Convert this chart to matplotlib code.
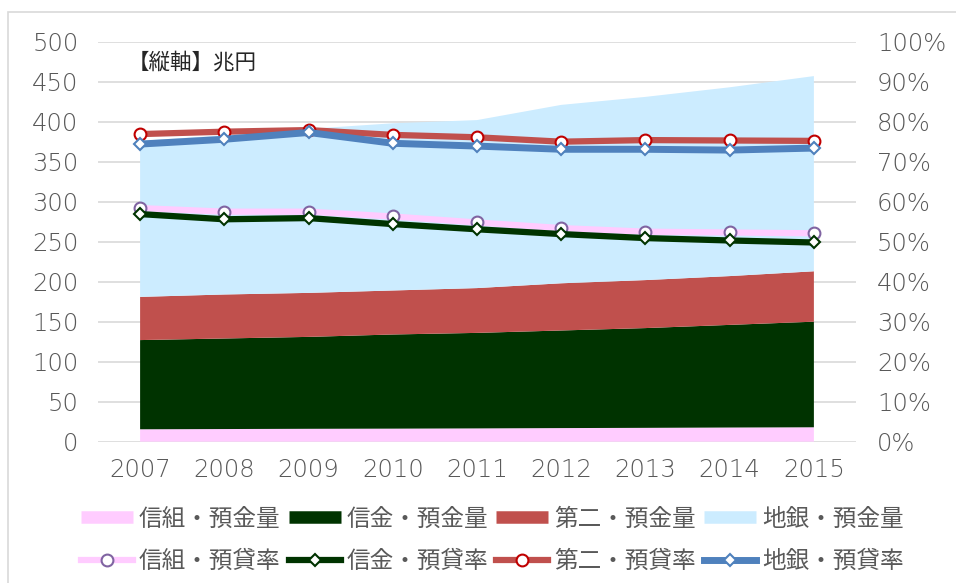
import matplotlib.pyplot as plt
from matplotlib.lines import Line2D
from matplotlib.patches import Rectangle
from matplotlib.ticker import MultipleLocator, PercentFormatter

plt.rcParams['font.family'] = ['Noto Sans CJK JP', 'DejaVu Sans']

# data
years = [2007, 2008, 2009, 2010, 2011, 2012, 2013, 2014, 2015]

# deposits (trillion yen), stacked
shinkumi_dep = [15.5, 15.8, 16.1, 16.3, 16.6, 17.0, 17.3, 17.7, 18.0]
shinkin_dep = [111.5, 113.2, 114.9, 117.7, 119.4, 122.0, 124.7, 128.3, 132.0]
daini_dep = [54, 55, 55, 55, 56, 59, 60, 61, 63]
chigin_dep = [195, 199, 205, 209, 210, 223, 229, 236, 244]

# loan-to-deposit ratios (right axis)
shinkumi_ratio = [0.584, 0.575, 0.575, 0.563, 0.548, 0.534, 0.525, 0.523, 0.521]
shinkin_ratio = [0.569, 0.556, 0.559, 0.544, 0.531, 0.519, 0.509, 0.503, 0.498]
daini_ratio = [0.769, 0.775, 0.779, 0.767, 0.761, 0.750, 0.754, 0.753, 0.752]
chigin_ratio = [0.744, 0.756, 0.773, 0.746, 0.739, 0.731, 0.731, 0.729, 0.734]

area_labels = ['信組・預金量', '信金・預金量', '第二・預金量', '地銀・預金量']
line_labels = ['信組・預貸率', '信金・預貸率', '第二・預貸率', '地銀・預貸率']

area_colors = ['#FFCCFF', '#003300', '#C0504D', '#CCECFF']
tick_color = '#595959'
grid_color = '#D9D9D9'
num_font = 'DejaVu Sans'

fig = plt.figure(figsize=(9.56, 5.83), dpi=100)
ax = fig.add_axes([0.1025, 0.2424, 0.7929, 0.6861])

ax.stackplot(years, shinkumi_dep, shinkin_dep, daini_dep, chigin_dep,
             colors=area_colors, zorder=2)
ax.set_xlim(2006.5, 2015.5)
ax.set_ylim(0, 500)
ax.yaxis.set_major_locator(MultipleLocator(50))
ax.set_xticks(years)
ax.grid(axis='y', color=grid_color, lw=1.2, zorder=0)
ax.set_axisbelow(True)
for s in ax.spines.values():
    s.set_visible(False)
ax.tick_params(axis='y', length=0, labelsize=17.5, labelcolor=tick_color, pad=14)
ax.tick_params(axis='x', length=0, labelsize=17.5, labelcolor=tick_color, pad=12)

# ratio lines on the right axis
ax2 = ax.twinx()
ax2.set_ylim(0, 1)
ax2.yaxis.set_major_locator(MultipleLocator(0.1))
ax2.yaxis.set_major_formatter(PercentFormatter(1.0, decimals=0))
for s in ax2.spines.values():
    s.set_visible(False)
ax2.tick_params(axis='y', length=0, labelsize=17.5, labelcolor=tick_color, pad=15)

line_styles = [
    dict(color='#FFCCFF', lw=4.5, marker='o', ms=8.5, mfc='white', mec='#8064A2', mew=1.5),
    dict(color='#003300', lw=4.5, marker='D', ms=6.5, mfc='white', mec='#003300', mew=1.5),
    dict(color='#C0504D', lw=4.5, marker='o', ms=8.5, mfc='white', mec='#C00000', mew=1.5),
    dict(color='#4F81BD', lw=5, marker='D', ms=6.5, mfc='white', mec='#4F81BD', mew=1.5),
]
ratios = [shinkumi_ratio, shinkin_ratio, daini_ratio, chigin_ratio]
for r, st in zip(ratios, line_styles):
    ax2.plot(years, r, **st)

fig.canvas.draw()
for lbl in ax.get_xticklabels() + ax.get_yticklabels() + ax2.get_yticklabels():
    lbl.set_fontfamily(num_font)
    lbl.set_fontweight('light')

fig.text(128 / 956, 1 - 63 / 583, '【縦軸】兆円', fontsize=15.5, color='#262626',
         ha='left', va='center')

# legend: column-major so each column holds area then line
handles, labels = [], []
for i in range(4):
    handles.append(Line2D([], [], color=area_colors[i], lw=9, solid_capstyle='butt'))
    labels.append(area_labels[i])
    handles.append(Line2D([], [], **line_styles[i]))
    labels.append(line_labels[i])
fig.legend(handles, labels, ncol=4, loc='center', bbox_to_anchor=(0.515, 0.073),
           frameon=False, fontsize=17, labelcolor=tick_color, handlelength=2.2,
           handletextpad=0.25, columnspacing=0.35, labelspacing=0.82, numpoints=1)

# chart border
fig.add_artist(Rectangle((8 / 956, -0.1), 1.2, 1.1 - 12 / 583, transform=fig.transFigure,
                         fill=False, ec=grid_color, lw=1.2))

fig.savefig('out.png', dpi=100)
